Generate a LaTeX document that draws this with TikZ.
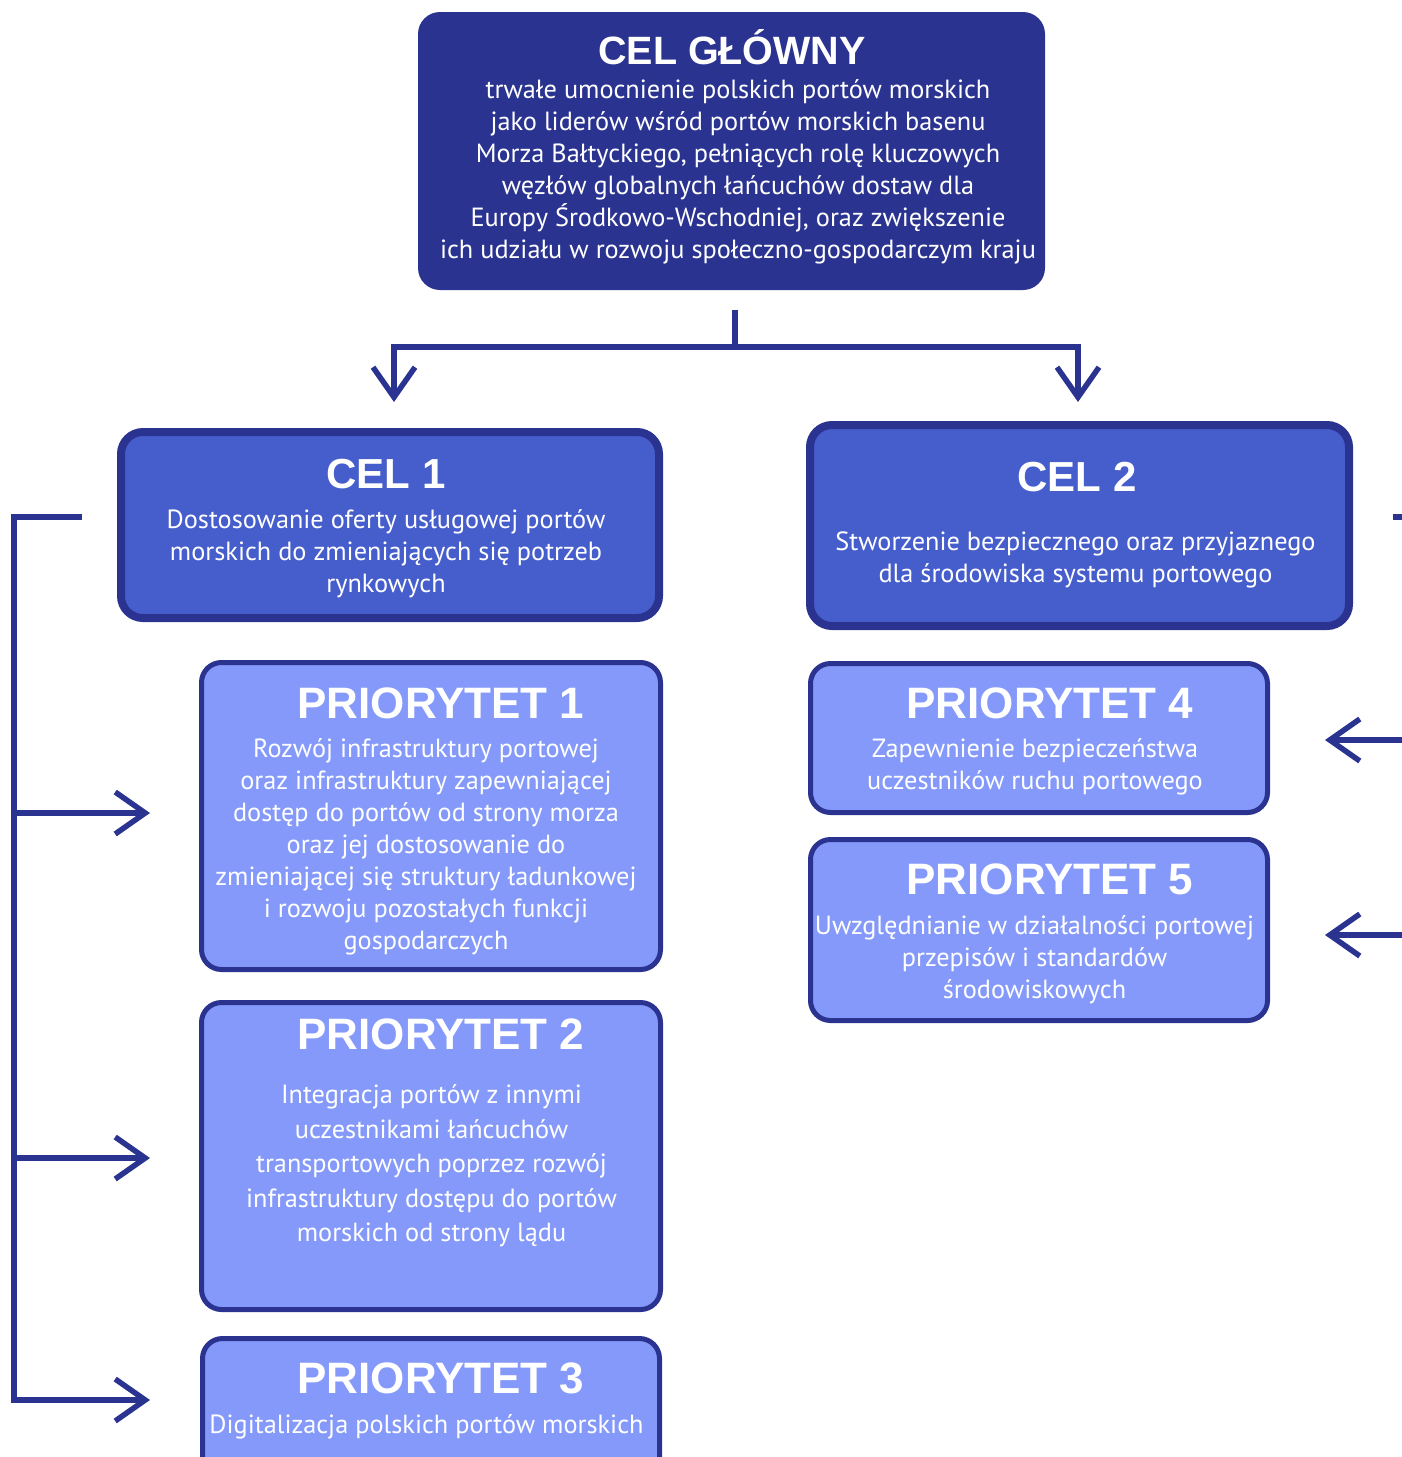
\documentclass[tikz,border=0pt]{standalone}
\usepackage{fontspec}
\setmainfont{PT Sans}
\newfontfamily\hfont{Liberation Sans}
\usetikzlibrary{arrows.meta}
\definecolor{navy}{RGB}{43,51,145}
\definecolor{celfill}{RGB}{70,93,204}
\definecolor{prifill}{RGB}{132,153,250}
\begin{document}
\begin{tikzpicture}[x=1pt,y=-1pt,
  mainbox/.style={fill=navy, rounded corners=22pt, inner sep=0pt, outer sep=0pt},
  celbox/.style={fill=celfill, draw=navy, line width=8pt, rounded corners=22pt, inner sep=0pt},
  pribox/.style={fill=prifill, draw=navy, line width=5pt, rounded corners=20pt, inner sep=0pt},
  ttl/.style={text=white, inner sep=0pt, anchor=base},
  body/.style={text=white, align=center, inner sep=0pt, font=\fontsize{26.3}{32}\selectfont},
  conn/.style={draw=navy, line width=5.5pt},
  arr/.style={-{Straight Barb[length=30pt,width=42pt]}}
]
\useasboundingbox (0,0) rectangle (1402,1457);
\clip (0,0) rectangle (1402,1457);
\fill[white] (0,0) rectangle (1402,1457);

% boxes
\node[mainbox, minimum width=627pt, minimum height=278pt] (top) at (731.5,151) {};
\node[celbox, minimum width=538pt, minimum height=186pt] (cel1) at (390,525) {};
\node[celbox, minimum width=539pt, minimum height=201pt] (cel2) at (1079.5,525.5) {};
\node[pribox, minimum width=459pt, minimum height=307pt] (p1) at (431,816) {};
\node[pribox, minimum width=459pt, minimum height=307pt] (p2) at (431,1156) {};
\node[pribox, minimum width=457pt, minimum height=141.5pt] (p3) at (431,1409.25) {};
\node[pribox, minimum width=457pt, minimum height=149pt] (p4) at (1039,738) {};
\node[pribox, minimum width=457pt, minimum height=181pt] (p5) at (1039,930) {};

% titles
\node[ttl, font=\hfont\bfseries\fontsize{39.5}{40}\selectfont] (topT) at (732,64) {CEL GŁÓWNY};
\node[ttl, font=\hfont\bfseries\fontsize{42}{42}\selectfont] (cel1T) at (386,488) {CEL 1};
\node[ttl, font=\hfont\bfseries\fontsize{42}{42}\selectfont] (cel2T) at (1077,491) {CEL 2};
\node[ttl, font=\hfont\bfseries\fontsize{44}{44}\selectfont] (p1T) at (441,718) {PRIORYTET 1};
\node[ttl, font=\hfont\bfseries\fontsize{44}{44}\selectfont] (p2T) at (441,1049) {PRIORYTET 2};
\node[ttl, font=\hfont\bfseries\fontsize{44}{44}\selectfont] (p3T) at (441,1393) {PRIORYTET 3};
\node[ttl, font=\hfont\bfseries\fontsize{44}{44}\selectfont] (p4T) at (1050,718) {PRIORYTET 4};
\node[ttl, font=\hfont\bfseries\fontsize{44}{44}\selectfont] (p5T) at (1050,894) {PRIORYTET 5};

% body texts
\node[body] (topB) at (738,172) {trwałe umocnienie polskich portów morskich\\jako liderów wśród portów morskich basenu\\Morza Bałtyckiego, pełniących rolę kluczowych\\węzłów globalnych łańcuchów dostaw dla\\Europy Środkowo-Wschodniej, oraz zwiększenie\\ich udziału w rozwoju społeczno-gospodarczym kraju};
\node[body] (cel1B) at (386,554) {Dostosowanie oferty usługowej portów\\morskich do zmieniających się potrzeb\\rynkowych};
\node[body] (cel2B) at (1075.5,560) {Stworzenie bezpiecznego oraz przyjaznego\\dla środowiska systemu portowego};
\node[body] (p1B) at (426,847) {Rozwój infrastruktury portowej\\oraz infrastruktury zapewniającej\\dostęp do portów od strony morza\\oraz jej dostosowanie do\\zmieniającej się struktury ładunkowej\\i rozwoju pozostałych funkcji\\gospodarczych};
\node[body, font=\fontsize{26.3}{34.5}\selectfont] (p2B) at (431.5,1166) {Integracja portów z innymi\\uczestnikami łańcuchów\\transportowych poprzez rozwój\\infrastruktury dostępu do portów\\morskich od strony lądu};
\node[body] (p3B) at (426.5,1427) {Digitalizacja polskich portów morskich};
\node[body] (p4B) at (1035,767) {Zapewnienie bezpieczeństwa\\uczestników ruchu portowego};
\node[body] (p5B) at (1034.5,960) {Uwzględnianie w działalności portowej\\przepisów i standardów\\środowiskowych};

% connector coordinates
\coordinate (stem) at (735,310);
\coordinate (split) at (735,347);
\coordinate (t1) at (394,402);
\coordinate (t2) at (1078,402);
\coordinate (ls) at (82,517);
\coordinate (lc) at (14,517);
\coordinate (lb) at (14,1400);
\coordinate (lj1) at (14,813);
\coordinate (lj2) at (14,1158);
\coordinate (a1) at (150,813);
\coordinate (a2) at (150,1158);
\coordinate (a3) at (150,1400);
\coordinate (rs1) at (1393,517);
\coordinate (rs2) at (1410,517);
\coordinate (re1) at (1410,740);
\coordinate (re2) at (1410,935);
\coordinate (b4) at (1325,740);
\coordinate (b5) at (1325,935);

\draw[conn] (stem) -- (split);
\draw[conn,arr] (split) -| (t1);
\draw[conn,arr] (split) -| (t2);
\draw[conn,arr] (ls) -- (lc) -- (lb) -- (a3);
\draw[conn,arr] (lj1) -- (a1);
\draw[conn,arr] (lj2) -- (a2);
\draw[conn] (rs1) -- (rs2);
\draw[conn,arr] (re1) -- (b4);
\draw[conn,arr] (re2) -- (b5);
\end{tikzpicture}
\end{document}
